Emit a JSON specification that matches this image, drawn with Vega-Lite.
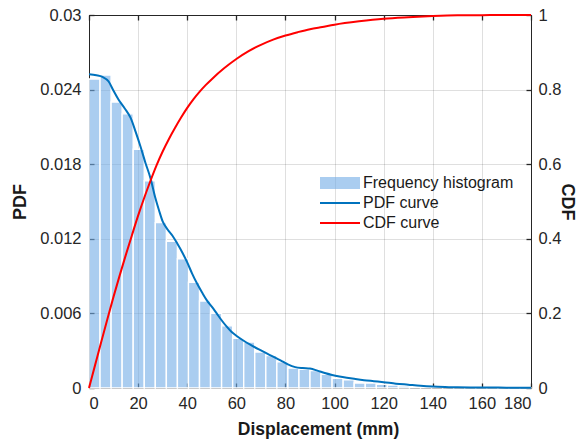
{
  "$schema": "https://vega.github.io/schema/vega-lite/v6.json",
  "width": 442,
  "height": 373,
  "autosize": {"type": "none"},
  "padding": {"left": 89, "top": 15, "right": 56, "bottom": 56},
  "background": "white",
  "config": {
    "font": "Liberation Sans",
    "view": {"stroke": "#262626", "strokeWidth": 1},
    "axis": {
      "labelFont": "Liberation Sans",
      "labelFontSize": 16.5,
      "labelColor": "#262626",
      "titleFont": "Liberation Sans",
      "titleFontSize": 18,
      "titleFontWeight": "bold",
      "titleColor": "#1a1a1a",
      "domainColor": "#262626",
      "domainWidth": 1,
      "tickColor": "#262626",
      "tickSize": -5,
      "tickWidth": 1.3,
      "gridColor": "#262626",
      "gridOpacity": 0.15,
      "gridWidth": 1,
      "labelPadding": 13
    }
  },
  "datasets": {
    "hist": [
      {"x0": 0, "x1": 4.5, "density": 0.02485},
      {"x0": 4.5, "x1": 9, "density": 0.02517},
      {"x0": 9, "x1": 13.5, "density": 0.0230},
      {"x0": 13.5, "x1": 18, "density": 0.02205},
      {"x0": 18, "x1": 22.5, "density": 0.0192},
      {"x0": 22.5, "x1": 27, "density": 0.01667},
      {"x0": 27, "x1": 31.5, "density": 0.0133},
      {"x0": 31.5, "x1": 36, "density": 0.0118},
      {"x0": 36, "x1": 40.5, "density": 0.0104},
      {"x0": 40.5, "x1": 45, "density": 0.0085},
      {"x0": 45, "x1": 49.5, "density": 0.0070},
      {"x0": 49.5, "x1": 54, "density": 0.0060},
      {"x0": 54, "x1": 58.5, "density": 0.0050},
      {"x0": 58.5, "x1": 63, "density": 0.0040},
      {"x0": 63, "x1": 67.5, "density": 0.0037},
      {"x0": 67.5, "x1": 72, "density": 0.0029},
      {"x0": 72, "x1": 76.5, "density": 0.0026},
      {"x0": 76.5, "x1": 81, "density": 0.0021},
      {"x0": 81, "x1": 85.5, "density": 0.0016},
      {"x0": 85.5, "x1": 90, "density": 0.0015},
      {"x0": 90, "x1": 94.5, "density": 0.0014},
      {"x0": 94.5, "x1": 99, "density": 0.0011},
      {"x0": 99, "x1": 103.5, "density": 0.00078},
      {"x0": 103.5, "x1": 108, "density": 0.00065},
      {"x0": 108, "x1": 112.5, "density": 0.0004},
      {"x0": 112.5, "x1": 117, "density": 0.0004},
      {"x0": 117, "x1": 121.5, "density": 0.0003},
      {"x0": 121.5, "x1": 126, "density": 0.00024},
      {"x0": 126, "x1": 130.5, "density": 0.00016},
      {"x0": 130.5, "x1": 135, "density": 0.0001},
      {"x0": 135, "x1": 139.5, "density": 0.00008},
      {"x0": 139.5, "x1": 144, "density": 0.00006},
      {"x0": 144, "x1": 148.5, "density": 0.00005},
      {"x0": 148.5, "x1": 153, "density": 0.00004},
      {"x0": 153, "x1": 157.5, "density": 0.00003},
      {"x0": 157.5, "x1": 162, "density": 0.00003},
      {"x0": 162, "x1": 166.5, "density": 0.00002},
      {"x0": 166.5, "x1": 171, "density": 0.00002},
      {"x0": 171, "x1": 175.5, "density": 0.00001},
      {"x0": 175.5, "x1": 180, "density": 0.00001}
    ],
    "pdf": [
      {"x": 0, "pdf": 0.02523},
      {"x": 3, "pdf": 0.02515},
      {"x": 5.5, "pdf": 0.02502},
      {"x": 8, "pdf": 0.02465},
      {"x": 10, "pdf": 0.02390},
      {"x": 12, "pdf": 0.02320},
      {"x": 14.5, "pdf": 0.02250},
      {"x": 17, "pdf": 0.02170},
      {"x": 19, "pdf": 0.02060},
      {"x": 21, "pdf": 0.01940},
      {"x": 23, "pdf": 0.01810},
      {"x": 25, "pdf": 0.01690},
      {"x": 27, "pdf": 0.01530},
      {"x": 28.5, "pdf": 0.01430},
      {"x": 30, "pdf": 0.01340},
      {"x": 32, "pdf": 0.01275},
      {"x": 34, "pdf": 0.01225},
      {"x": 36, "pdf": 0.01160},
      {"x": 38, "pdf": 0.01090},
      {"x": 40, "pdf": 0.01010},
      {"x": 42, "pdf": 0.00920},
      {"x": 44, "pdf": 0.00840},
      {"x": 46, "pdf": 0.00770},
      {"x": 48, "pdf": 0.00705},
      {"x": 50, "pdf": 0.00655},
      {"x": 52, "pdf": 0.00600},
      {"x": 54, "pdf": 0.00545},
      {"x": 56, "pdf": 0.00495},
      {"x": 58, "pdf": 0.00452},
      {"x": 60, "pdf": 0.00420},
      {"x": 63, "pdf": 0.00380},
      {"x": 66, "pdf": 0.00345},
      {"x": 69, "pdf": 0.00312},
      {"x": 72, "pdf": 0.00282},
      {"x": 75, "pdf": 0.00252},
      {"x": 78, "pdf": 0.00222},
      {"x": 81, "pdf": 0.00190},
      {"x": 84, "pdf": 0.00168},
      {"x": 87, "pdf": 0.00160},
      {"x": 90, "pdf": 0.00156},
      {"x": 93, "pdf": 0.00140},
      {"x": 96, "pdf": 0.00120},
      {"x": 99, "pdf": 0.00105},
      {"x": 102, "pdf": 0.00093},
      {"x": 105, "pdf": 0.00083},
      {"x": 108, "pdf": 0.00074},
      {"x": 112, "pdf": 0.00063},
      {"x": 116, "pdf": 0.00055},
      {"x": 120, "pdf": 0.00047},
      {"x": 125, "pdf": 0.00035},
      {"x": 130, "pdf": 0.00027},
      {"x": 135, "pdf": 0.00019},
      {"x": 140, "pdf": 0.00013},
      {"x": 145, "pdf": 0.00009},
      {"x": 150, "pdf": 0.00006},
      {"x": 160, "pdf": 0.00004},
      {"x": 170, "pdf": 0.00003},
      {"x": 180, "pdf": 0.00002}
    ],
    "cdf": [
      {"x": 0, "cdf": 0},
      {"x": 2.5, "cdf": 0.062},
      {"x": 5, "cdf": 0.124},
      {"x": 7.5, "cdf": 0.185},
      {"x": 10, "cdf": 0.245},
      {"x": 12.5, "cdf": 0.302},
      {"x": 15, "cdf": 0.357},
      {"x": 17.5, "cdf": 0.410},
      {"x": 20, "cdf": 0.462},
      {"x": 22.5, "cdf": 0.510},
      {"x": 25, "cdf": 0.555},
      {"x": 27.5, "cdf": 0.597},
      {"x": 30, "cdf": 0.634},
      {"x": 32.5, "cdf": 0.667},
      {"x": 35, "cdf": 0.697},
      {"x": 37.5, "cdf": 0.725},
      {"x": 40, "cdf": 0.751},
      {"x": 42.5, "cdf": 0.774},
      {"x": 45, "cdf": 0.794},
      {"x": 47.5, "cdf": 0.812},
      {"x": 50, "cdf": 0.828},
      {"x": 55, "cdf": 0.857},
      {"x": 60, "cdf": 0.882},
      {"x": 65, "cdf": 0.903},
      {"x": 70, "cdf": 0.920},
      {"x": 75, "cdf": 0.934},
      {"x": 80, "cdf": 0.945},
      {"x": 85, "cdf": 0.954},
      {"x": 90, "cdf": 0.962},
      {"x": 95, "cdf": 0.968},
      {"x": 100, "cdf": 0.974},
      {"x": 110, "cdf": 0.983},
      {"x": 120, "cdf": 0.990},
      {"x": 130, "cdf": 0.994},
      {"x": 140, "cdf": 0.997},
      {"x": 150, "cdf": 0.999},
      {"x": 160, "cdf": 0.9995},
      {"x": 170, "cdf": 1.0},
      {"x": 180, "cdf": 1.0}
    ]
  },
  "layer": [
    {
      "data": {"name": "hist"},
      "mark": {"type": "rect", "fillOpacity": 0.6, "stroke": "white", "strokeWidth": 1.4, "strokeOpacity": 1},
      "encoding": {
        "x": {
          "field": "x0", "type": "quantitative",
          "scale": {"domain": [0, 180], "nice": false, "zero": false},
          "axis": {"values": [0, 20, 40, 60, 80, 100, 120, 140, 160, 180], "title": "Displacement (mm)", "grid": true, "titlePadding": 9, "labelPadding": 12, "titleX": 229, "titleFontSize": 17.5}
        },
        "x2": {"field": "x1"},
        "y": {
          "field": "density", "type": "quantitative",
          "scale": {"domain": [0, 0.03], "nice": false},
          "axis": {"values": [0, 0.006, 0.012, 0.018, 0.024, 0.03], "format": ".3~f", "title": "PDF", "grid": true, "titlePadding": 10}
        },
        "y2": {"datum": 0},
        "color": {
          "datum": "Frequency histogram", "type": "nominal",
          "scale": {"domain": ["Frequency histogram", "PDF curve", "CDF curve"], "range": ["#71ACE6", "#0072BD", "#FF0000"]},
          "legend": {
            "orient": "none", "legendX": 243, "legendY": 160, "title": null,
            "padding": 0, "labelFont": "Liberation Sans", "labelFontSize": 16, "labelColor": "#1a1a1a",
            "symbolSize": 100, "rowPadding": 4, "labelOffset": 15,
            "encoding": {
              "symbols": {
                "shape": {"value": {"expr": "datum.value === 'Frequency histogram' ? 'M-4,-1.2H4V1.2H-4Z' : 'M-4,0H4'"}},
                "fill": {"value": {"expr": "datum.value === 'Frequency histogram' ? '#71ACE6' : 'transparent'"}},
                "fillOpacity": {"value": 0.6},
                "stroke": {"value": {"expr": "datum.value === 'PDF curve' ? '#0072BD' : '#FF0000'"}},
                "strokeWidth": {"value": {"expr": "datum.value === 'Frequency histogram' ? 0 : 2"}},
                "opacity": {"value": 1}
              }
            }
          }
        }
      }
    },
    {
      "data": {"name": "pdf"},
      "mark": {"type": "line", "strokeWidth": 2, "interpolate": "monotone"},
      "encoding": {
        "x": {
          "field": "x", "type": "quantitative",
          "axis": {"orient": "top", "values": [0, 20, 40, 60, 80, 100, 120, 140, 160, 180], "labels": false, "title": null, "grid": false}
        },
        "y": {"field": "pdf", "type": "quantitative", "scale": {"domain": [0, 0.03], "nice": false}, "axis": null},
        "color": {"datum": "PDF curve", "type": "nominal"}
      }
    },
    {
      "data": {"name": "cdf"},
      "mark": {"type": "line", "strokeWidth": 2, "interpolate": "monotone"},
      "encoding": {
        "x": {"field": "x", "type": "quantitative", "axis": null},
        "y": {
          "field": "cdf", "type": "quantitative",
          "scale": {"domain": [0, 1], "nice": false},
          "axis": {"orient": "right", "values": [0, 0.2, 0.4, 0.6, 0.8, 1], "format": "~g", "title": "CDF", "grid": false, "titlePadding": -3, "labelPadding": 12}
        },
        "color": {"datum": "CDF curve", "type": "nominal"}
      }
    }
  ],
  "resolve": {"scale": {"y": "independent"}, "axis": {"x": "independent"}}
}
